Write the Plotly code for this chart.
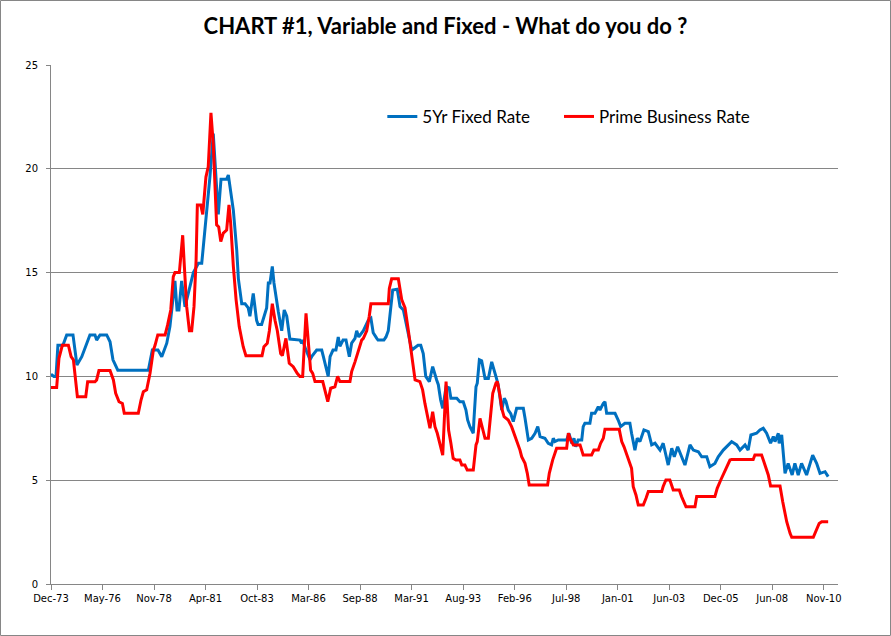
import plotly.graph_objects as go

# ---- data (x as decimal year, values in %) ----
fixed_t = [1973.92, 1974.06, 1974.16, 1974.25, 1974.49, 1974.67, 1974.97, 1975.16, 1975.39, 1975.78,
           1976.02, 1976.10, 1976.26, 1976.58, 1976.74, 1976.88, 1977.11, 1978.57, 1978.76, 1979.03,
           1979.21, 1979.32, 1979.45, 1979.60, 1979.76, 1979.84, 1979.94, 1980.03, 1980.16, 1980.32,
           1980.72, 1980.96, 1981.12, 1981.36, 1981.51, 1981.67, 1981.91, 1982.04, 1982.31, 1982.39,
           1982.63, 1982.79, 1982.87, 1983.03, 1983.19, 1983.34, 1983.42, 1983.58, 1983.74, 1983.81,
           1983.98, 1984.22, 1984.30, 1984.38, 1984.49, 1984.57, 1984.67, 1984.78, 1984.94, 1985.06,
           1985.18, 1985.33, 1985.81, 1985.89, 1985.94, 1986.05, 1986.29, 1986.37, 1986.61, 1986.85,
           1986.93, 1987.04, 1987.16, 1987.25, 1987.39, 1987.53, 1987.64, 1987.72, 1987.87, 1988.01,
           1988.07, 1988.17, 1988.28, 1988.44, 1988.52, 1988.62, 1988.84, 1989.07, 1989.20, 1989.31,
           1989.48, 1989.54, 1989.82, 1989.92, 1990.03, 1990.14, 1990.24, 1990.46, 1990.59, 1990.75,
           1990.99, 1991.15, 1991.45, 1991.58, 1991.70, 1991.82, 1991.99, 1992.15, 1992.34, 1992.42,
           1992.53, 1992.63, 1992.79, 1992.94, 1993.02, 1993.30, 1993.45, 1993.61, 1993.74, 1993.82,
           1993.93, 1994.09, 1994.12, 1994.22, 1994.28, 1994.38, 1994.49, 1994.65, 1994.81, 1994.97,
           1995.17, 1995.28, 1995.45, 1995.57, 1995.65, 1995.76, 1995.88, 1996.00, 1996.16, 1996.48,
           1996.56, 1996.61, 1996.72, 1996.88, 1997.04, 1997.17, 1997.28, 1997.51, 1997.67, 1997.83,
           1997.91, 1997.99, 1998.15, 1998.55, 1998.66, 1998.79, 1998.90, 1998.98, 1999.10, 1999.27,
           1999.34, 1999.42, 1999.66, 1999.74, 1999.90, 2000.06, 2000.14, 2000.30, 2000.38, 2000.46,
           2000.86, 2001.01, 2001.13, 2001.33, 2001.57, 2001.65, 2001.81, 2001.92, 2002.05, 2002.24,
           2002.45, 2002.61, 2002.77, 2003.01, 2003.16, 2003.40, 2003.57, 2003.69, 2003.85, 2004.20,
           2004.44, 2004.60, 2004.84, 2005.00, 2005.24, 2005.39, 2005.63, 2005.79, 2006.03, 2006.43,
           2006.67, 2006.83, 2007.07, 2007.22, 2007.35, 2007.62, 2007.78, 2007.94, 2008.10, 2008.29,
           2008.42, 2008.50, 2008.66, 2008.70, 2008.82, 2008.98, 2009.13, 2009.32, 2009.45, 2009.61,
           2009.77, 2010.01, 2010.30, 2010.49, 2010.65, 2010.89, 2011.04]
fixed_v = [10.1, 10.0, 10.0, 11.5, 11.5, 12.0, 12.0, 10.55, 10.95, 12.0,
           12.0, 11.75, 12.0, 12.0, 11.67, 10.8, 10.3, 10.3, 11.27, 11.27,
           10.95, 11.3, 11.6, 12.4, 13.7, 14.6, 13.2, 13.2, 14.6, 13.35,
           15.0, 15.45, 15.45, 18.0, 19.6, 21.7, 17.8, 19.5, 19.5, 19.7,
           18.0, 16.1, 14.7, 13.5, 13.5, 13.3, 12.9, 14.0, 12.7, 12.5,
           12.5, 13.3, 14.5, 14.5, 15.3, 14.5, 13.7, 13.1, 12.2, 13.2,
           12.9, 11.8, 11.75, 11.6, 11.75, 11.4, 10.8, 10.95, 11.27, 11.27,
           10.95, 10.47, 10.0, 10.95, 11.27, 11.27, 11.9, 11.45, 11.75, 11.75,
           11.45, 10.95, 11.6, 11.83, 12.2, 11.9, 12.2, 12.7, 12.8, 12.1,
           11.83, 11.75, 11.75, 11.9, 12.2, 13.2, 14.16, 14.2, 13.36, 13.2,
           12.07, 11.27, 11.5, 11.5, 11.1, 10.0, 9.75, 10.47, 9.83, 9.6,
           8.86, 8.46, 9.5, 9.45, 8.95, 8.95, 8.78, 8.78, 8.38, 7.9,
           7.58, 7.26, 7.9, 9.5, 9.67, 10.8, 10.75, 9.9, 9.9, 10.7,
           10.0, 9.6, 8.38, 8.95, 8.8, 8.38, 8.2, 7.82, 8.46, 8.46,
           8.0, 7.58, 6.94, 7.02, 7.26, 7.58, 7.1, 7.02, 6.78, 6.7,
           7.02, 6.86, 6.94, 6.94, 7.26, 6.78, 7.02, 6.61, 6.94, 6.94,
           7.58, 7.74, 7.74, 8.22, 8.22, 8.54, 8.38, 8.7, 8.78, 8.22,
           8.22, 7.9, 7.58, 7.74, 7.74, 7.26, 6.45, 7.02, 6.86, 7.42,
           7.34, 6.7, 6.78, 6.45, 6.78, 5.73, 6.54, 6.13, 6.61, 5.73,
           6.7, 6.45, 6.37, 6.13, 6.13, 5.65, 5.81, 6.13, 6.45, 6.86,
           6.7, 6.45, 6.7, 6.45, 7.18, 7.26, 7.42, 7.5, 7.26, 6.78,
           7.1, 6.86, 7.26, 6.78, 7.18, 5.33, 5.81, 5.25, 5.81, 5.25,
           5.81, 5.25, 6.21, 5.81, 5.33, 5.41, 5.17]

prime_t = [1973.92, 1974.19, 1974.30, 1974.46, 1974.75, 1974.88, 1974.99, 1975.18, 1975.58, 1975.67,
           1976.02, 1976.10, 1976.21, 1976.74, 1976.90, 1977.01, 1977.17, 1977.33, 1977.42, 1978.09,
           1978.22, 1978.33, 1978.49, 1978.65, 1978.81, 1978.89, 1979.02, 1979.37, 1979.49, 1979.64,
           1979.76, 1979.84, 1980.05, 1980.11, 1980.21, 1980.29, 1980.40, 1980.53, 1980.64, 1980.75,
           1980.85, 1980.91, 1981.07, 1981.17, 1981.24, 1981.32, 1981.43, 1981.56, 1981.67, 1981.75,
           1981.83, 1981.93, 1982.03, 1982.15, 1982.31, 1982.42, 1982.50, 1982.63, 1982.76, 1982.91,
           1983.10, 1983.23, 1984.00, 1984.09, 1984.25, 1984.35, 1984.49, 1984.62, 1984.73, 1984.89,
           1984.97, 1985.14, 1985.30, 1985.49, 1985.57, 1985.68, 1985.81, 1985.94, 1986.10, 1986.21,
           1986.32, 1986.42, 1986.53, 1986.90, 1987.01, 1987.14, 1987.28, 1987.48, 1987.61, 1987.72,
           1988.20, 1988.28, 1988.44, 1988.60, 1988.76, 1988.84, 1989.00, 1989.12, 1989.20, 1990.03,
           1990.08, 1990.19, 1990.51, 1990.67, 1990.83, 1990.99, 1991.15, 1991.31, 1991.54, 1991.67,
           1991.78, 1991.89, 1992.02, 1992.15, 1992.26, 1992.37, 1992.50, 1992.63, 1992.79, 1992.91,
           1993.02, 1993.13, 1993.26, 1993.45, 1993.54, 1993.69, 1993.80, 1994.09, 1994.22, 1994.28,
           1994.41, 1994.54, 1994.65, 1994.81, 1994.92, 1995.02, 1995.17, 1995.24, 1995.36, 1995.45,
           1995.56, 1995.76, 1995.92, 1996.16, 1996.32, 1996.40, 1996.56, 1996.67, 1996.76, 1997.64,
           1997.72, 1997.88, 1997.96, 1998.07, 1998.55, 1998.63, 1998.74, 1998.87, 1999.19, 1999.34,
           1999.74, 1999.85, 2000.06, 2000.17, 2000.30, 2000.38, 2001.06, 2001.18, 2001.29, 2001.42,
           2001.54, 2001.65, 2001.73, 2001.86, 2001.97, 2002.21, 2002.34, 2002.45, 2003.09, 2003.16,
           2003.29, 2003.48, 2003.64, 2003.93, 2004.04, 2004.25, 2004.68, 2004.76, 2005.63, 2005.74,
           2005.91, 2006.06, 2006.19, 2006.35, 2006.43, 2007.46, 2007.54, 2007.86, 2007.97, 2008.18,
           2008.29, 2008.74, 2008.87, 2009.06, 2009.22, 2009.30, 2010.33, 2010.46, 2010.61, 2010.73,
           2011.04]
prime_v = [9.47, 9.47, 10.87, 11.5, 11.5, 10.95, 10.8, 9.02, 9.02, 9.74,
           9.74, 9.83, 10.28, 10.28, 9.83, 9.19, 8.78, 8.7, 8.22, 8.22,
           8.86, 9.26, 9.35, 10.15, 11.27, 11.5, 12.0, 12.0, 12.48, 13.2,
           14.8, 15.0, 15.0, 15.6, 16.8, 15.3, 13.36, 12.2, 12.2, 13.36,
           15.6, 18.26, 18.26, 17.8, 18.5, 19.6, 20.1, 22.7, 21.2, 19.3,
           17.3, 17.2, 16.5, 16.9, 17.05, 18.26, 17.4, 15.3, 13.7, 12.4,
           11.43, 11.0, 11.0, 11.43, 11.6, 12.2, 13.5, 12.7, 12.2, 11.1,
           11.0, 11.83, 10.63, 10.47, 10.3, 10.15, 10.0, 10.0, 13.04, 11.8,
           10.3, 10.15, 9.75, 9.75, 9.35, 8.78, 9.43, 9.5, 10.0, 9.75,
           9.75, 10.23, 10.7, 11.27, 11.75, 11.83, 12.2, 12.9, 13.5, 13.5,
           14.24, 14.7, 14.7, 13.7, 13.3, 12.2, 11.1, 9.83, 9.75, 9.35,
           8.7, 8.06, 7.5, 8.3, 7.58, 7.26, 6.78, 6.21, 9.75, 7.42,
           6.78, 6.05, 5.97, 5.97, 5.73, 5.73, 5.49, 5.49, 6.7, 6.86,
           7.98, 7.42, 7.02, 7.02, 8.06, 9.19, 9.67, 9.75, 9.1, 8.46,
           8.06, 7.9, 7.58, 6.94, 6.45, 6.13, 5.81, 5.33, 4.77, 4.77,
           5.33, 5.97, 6.21, 6.54, 6.54, 7.26, 6.94, 6.7, 6.7, 6.21,
           6.21, 6.45, 6.45, 6.78, 7.02, 7.45, 7.45, 6.86, 6.61, 6.21,
           5.89, 5.57, 4.69, 4.29, 3.8, 3.8, 4.13, 4.45, 4.45, 4.7,
           5.01, 5.01, 4.53, 4.53, 4.21, 3.72, 3.72, 4.21, 4.21, 4.61,
           5.01, 5.33, 5.57, 5.97, 6.0, 6.0, 6.21, 6.21, 5.89, 5.25,
           4.72, 4.72, 3.96, 3.0, 2.44, 2.25, 2.25, 2.6, 2.92, 3.0,
           3.0]

tick_vals = [1973.92, 1976.38, 1978.84, 1981.30, 1983.76, 1986.22, 1988.68, 1991.14,
             1993.61, 1996.07, 1998.53, 2000.99, 2003.45, 2005.91, 2008.37, 2010.83]
tick_text = ["Dec-73", "May-76", "Nov-78", "Apr-81", "Oct-83", "Mar-86", "Sep-88", "Mar-91",
             "Aug-93", "Feb-96", "Jul-98", "Jan-01", "Jun-03", "Dec-05", "Jun-08", "Nov-10"]

fig = go.Figure()
fig.add_trace(go.Scatter(x=fixed_t, y=fixed_v, mode="lines", name="5Yr Fixed Rate",
                         line=dict(color="#0070C0", width=3), legend="legend", showlegend=True))
fig.add_trace(go.Scatter(x=prime_t, y=prime_v, mode="lines", name="Prime Business Rate",
                         line=dict(color="#FF0000", width=3), legend="legend2", showlegend=True))

legend_font = dict(family="Lato", size=17, color="black")

fig.update_layout(
    width=891, height=636,
    showlegend=True,
    margin=dict(l=51, r=53, t=65, b=52),
    paper_bgcolor="white", plot_bgcolor="white",
    title=dict(text="<b>CHART #1, Variable and Fixed - What do you do ?</b>",
               x=0.5, xanchor="center", y=0.958, yanchor="middle",
               font=dict(family="Lato", size=22, color="black")),
    legend=dict(orientation="h", x=0.421, y=0.9, xanchor="left", yanchor="middle",
                font=legend_font, bgcolor="rgba(0,0,0,0)"),
    legend2=dict(orientation="h", x=0.6455, y=0.9, xanchor="left", yanchor="middle",
                 font=legend_font, bgcolor="rgba(0,0,0,0)"),
    xaxis=dict(range=[1973.92, 2011.51], tickmode="array", tickvals=tick_vals, ticktext=tick_text,
               showgrid=False, zeroline=False, showline=True, linecolor="#868686", linewidth=1,
               ticks="outside", ticklen=5, tickcolor="#868686",
               tickfont=dict(family="DejaVu Sans", size=10, color="black")),
    yaxis=dict(range=[0, 25], tickvals=[0, 5, 10, 15, 20, 25],
               showgrid=True, gridcolor="#868686", gridwidth=1, zeroline=False,
               showline=True, linecolor="#868686", linewidth=1,
               ticks="outside", ticklen=4, tickcolor="#868686", ticklabelstandoff=6,
               tickfont=dict(family="DejaVu Sans", size=10, color="black")),
    shapes=[dict(type="rect", xref="paper", yref="paper",
                 x0=-50.5 / 787, x1=839.5 / 787, y0=-51.5 / 519, y1=583.5 / 519,
                 line=dict(color="#868686", width=1), fillcolor="rgba(0,0,0,0)", layer="below")],
)

fig.write_html("out.html")
